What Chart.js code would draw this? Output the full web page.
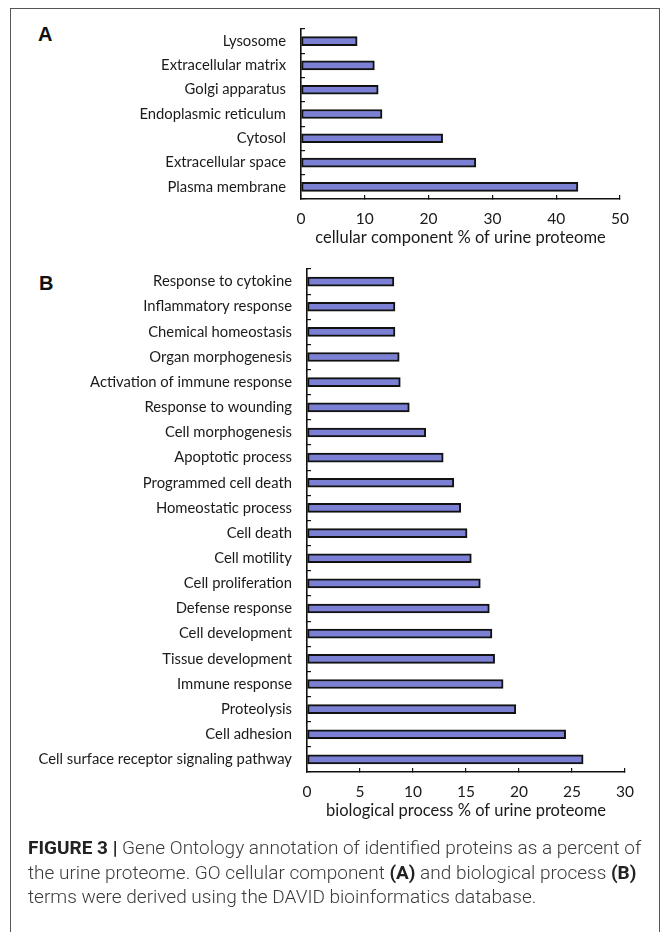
<!DOCTYPE html>
<html>
<head>
<meta charset="utf-8">
<script src="https://cdn.jsdelivr.net/npm/chart.js@4.4.1/dist/chart.umd.min.js"></script>
<style>
  html, body { margin: 0; padding: 0; background: #fff; }
  body { width: 663px; height: 932px; position: relative; overflow: hidden; }
  #frame { position: absolute; left: 10px; top: 8px; width: 650px; height: 940px; border: 1px solid #555; box-sizing: border-box; }
  .panel { position: absolute; font: bold 20px "Liberation Sans", Arial, sans-serif; color: #111; }
  #wrapA { position: absolute; left: 0; top: 0; width: 663px; height: 260px; }
  #wrapB { position: absolute; left: 0; top: 240px; width: 663px; height: 590px; }
  #caption { position: absolute; left: 28px; top: 836px; width: 634px; font: 300 19px/24.5px Roboto, "Liberation Sans", sans-serif; color: #3a3a3a; white-space: nowrap; }
  #caption b { font-weight: 700; color: #222; }
</style>
</head>
<body>
<div id="frame"></div>
<div class="panel" style="left:38px; top:23px;">A</div>
<div class="panel" style="left:39px; top:272px;">B</div>
<div id="wrapA"><canvas id="chartA"></canvas></div>
<div id="wrapB"><canvas id="chartB"></canvas></div>
<div id="caption"><b>FIGURE 3 |</b> Gene Ontology annotation of identified proteins as a percent of<br>the urine proteome. GO cellular component <b>(A)</b> and biological process <b>(B)</b><br>terms were derived using the DAVID bioinformatics database.</div>
<script>
var componentLabels = ['Lysosome', 'Extracellular matrix', 'Golgi apparatus', 'Endoplasmic reticulum', 'Cytosol', 'Extracellular space', 'Plasma membrane'];
var componentValues = [8.8, 11.5, 12.1, 12.7, 22.2, 27.4, 43.4];

var processLabels = ['Response to cytokine', 'Inflammatory response', 'Chemical homeostasis', 'Organ morphogenesis',
  'Activation of immune response', 'Response to wounding', 'Cell morphogenesis', 'Apoptotic process',
  'Programmed cell death', 'Homeostatic process', 'Cell death', 'Cell motility', 'Cell proliferation',
  'Defense response', 'Cell development', 'Tissue development', 'Immune response', 'Proteolysis',
  'Cell adhesion', 'Cell surface receptor signaling pathway'];
var processValues = [8.2, 8.3, 8.3, 8.7, 8.8, 9.65, 11.2, 12.85, 13.85, 14.5, 15.1, 15.5, 16.35, 17.2, 17.45, 17.7, 18.5, 19.7, 24.4, 26.05];

Chart.defaults.font.family = 'Lato, "Open Sans", sans-serif';
Chart.defaults.color = '#1a1a1a';
Chart.defaults.animation = false;

function makeChart(id, labels, values, opts) {
  return new Chart(document.getElementById(id), {
    type: 'bar',
    data: { labels: labels, datasets: [{ data: values, backgroundColor: '#7b80d4', borderColor: '#111', borderWidth: 2, borderSkipped: false, barThickness: 9 }] },
    options: {
      responsive: true, maintainAspectRatio: false, indexAxis: 'y',
      layout: { padding: opts.padding },
      plugins: { legend: { display: false }, tooltip: { enabled: false } },
      scales: {
        x: {
          min: 0, max: opts.max,
          ticks: { stepSize: opts.step, padding: 15, font: { size: 15.5 }, color: '#1a1a1a' },
          grid: { drawOnChartArea: false, tickLength: -4, color: '#111', lineWidth: 1.2 },
          border: { color: '#111', width: 1.6 },
          title: { display: true, text: opts.title, font: { size: 16.5 }, padding: 0, color: '#1a1a1a' },
          afterFit: function(s) { s.height = opts.xHeight; }
        },
        y: {
          ticks: { padding: 19, font: { size: 14.8 }, color: '#1a1a1a' },
          grid: { drawOnChartArea: false, tickLength: -4, color: '#111', lineWidth: 1.2, offset: true },
          border: { color: '#111', width: 1.6 },
          afterFit: function(s) { s.width = opts.yWidth; }
        }
      }
    }
  });
}

makeChart('chartA', componentLabels, componentValues, {
  max: 50, step: 10, title: 'cellular component % of urine proteome',
  padding: { top: 29, bottom: 12, left: 0, right: 43 }, xHeight: 49, yWidth: 301
});

makeChart('chartB', processLabels, processValues, {
  max: 30, step: 5, title: 'biological process % of urine proteome',
  padding: { top: 29, bottom: 9, left: 0, right: 38 }, xHeight: 49, yWidth: 307
});
</script>
</body>
</html>
